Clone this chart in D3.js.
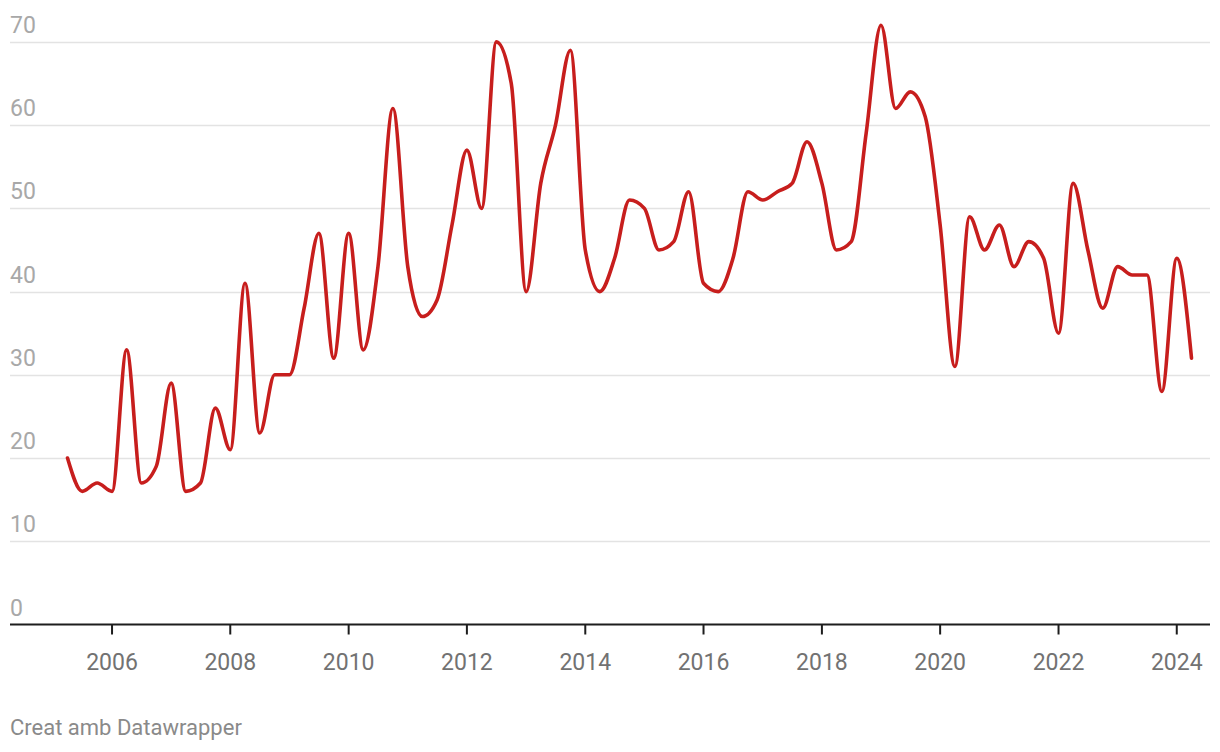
<!DOCTYPE html>
<html>
<head>
<meta charset="utf-8">
<script src="https://cdn.jsdelivr.net/npm/d3@7"></script>
<style>
  html, body { margin: 0; padding: 0; background: #fff; }
  svg { display: block; font-family: Roboto, "Noto Sans", sans-serif; }
</style>
</head>
<body>
<svg id="chart" width="1220" height="752"></svg>
<script>
// ---- data ----
const quarters = [
  "2005Q2","2005Q3","2005Q4",
  "2006Q1","2006Q2","2006Q3","2006Q4",
  "2007Q1","2007Q2","2007Q3","2007Q4",
  "2008Q1","2008Q2","2008Q3","2008Q4",
  "2009Q1","2009Q2","2009Q3","2009Q4",
  "2010Q1","2010Q2","2010Q3","2010Q4",
  "2011Q1","2011Q2","2011Q3","2011Q4",
  "2012Q1","2012Q2","2012Q3","2012Q4",
  "2013Q1","2013Q2","2013Q3","2013Q4",
  "2014Q1","2014Q2","2014Q3","2014Q4",
  "2015Q1","2015Q2","2015Q3","2015Q4",
  "2016Q1","2016Q2","2016Q3","2016Q4",
  "2017Q1","2017Q2","2017Q3","2017Q4",
  "2018Q1","2018Q2","2018Q3","2018Q4",
  "2019Q1","2019Q2","2019Q3","2019Q4",
  "2020Q1","2020Q2","2020Q3","2020Q4",
  "2021Q1","2021Q2","2021Q3","2021Q4",
  "2022Q1","2022Q2","2022Q3","2022Q4",
  "2023Q1","2023Q2","2023Q3","2023Q4",
  "2024Q1","2024Q2"
];
const values = [
  20, 16, 17,
  16, 33, 17, 19,
  29, 16, 17, 26,
  21, 41, 23, 30,
  30, 38, 47, 32,
  47, 33, 43, 62,
  43, 37, 39, 48,
  57, 50, 70, 65,
  40, 53, 60, 69,
  45, 40, 44, 51,
  50, 45, 46, 52,
  41, 40, 44, 52,
  51, 52, 53, 58,
  53, 45, 46, 59,
  72, 62, 64, 61,
  48, 31, 49, 45,
  48, 43, 46, 44,
  35, 53, 45, 38,
  43, 42, 42, 28,
  44, 32
];
const yTicks = [0, 10, 20, 30, 40, 50, 60, 70];
const xTickYears = [2006, 2008, 2010, 2012, 2014, 2016, 2018, 2020, 2022, 2024];
const credit = "Creat amb Datawrapper";

// ---- helpers ----
function qToDate(q) {
  const y = +q.slice(0, 4), n = +q.slice(5);
  return new Date(y, (n - 1) * 3, 1);
}
const data = quarters.map((q, i) => ({ date: qToDate(q), value: values[i] }));

// ---- layout ----
const plotLeft = 10, plotRight = 1210;
const svg = d3.select("#chart");

const x = d3.scaleTime()
  .domain(d3.extent(data, d => d.date))
  .range([67.5, 1191.5]);
const y = d3.scaleLinear().domain([0, 70]).range([624.5, 41.9]);

// gridlines
svg.append("g").selectAll("line")
  .data(yTicks.filter(t => t > 0))
  .join("line")
  .attr("x1", plotLeft).attr("x2", plotRight)
  .attr("y1", d => Math.round(y(d)) + 0.5).attr("y2", d => Math.round(y(d)) + 0.5)
  .attr("stroke", "#e3e3e3").attr("stroke-width", 1.5);

// y labels
svg.append("g").selectAll("text")
  .data(yTicks)
  .join("text")
  .attr("x", plotLeft)
  .attr("y", d => y(d) - 9)
  .attr("font-size", 23)
  .attr("fill", "#a8a8a8")
  .text(d => d);

// line
const line = d3.line()
  .x(d => x(d.date))
  .y(d => y(d.value))
  .curve(d3.curveMonotoneX);

svg.append("path")
  .datum(data)
  .attr("d", line)
  .attr("fill", "none")
  .attr("stroke", "#c71e1d")
  .attr("stroke-width", 3.6)
  .attr("stroke-linejoin", "round")
  .attr("stroke-linecap", "round");

// x axis baseline
svg.append("line")
  .attr("x1", plotLeft).attr("x2", plotRight)
  .attr("y1", y(0)).attr("y2", y(0))
  .attr("stroke", "#1d1d1d").attr("stroke-width", 2.2);

// x ticks and labels
const xt = svg.append("g").selectAll("g")
  .data(xTickYears)
  .join("g")
  .attr("transform", d => `translate(${x(new Date(d, 0, 1))},0)`);
xt.append("line")
  .attr("y1", y(0)).attr("y2", y(0) + 10)
  .attr("stroke", "#1d1d1d").attr("stroke-width", 2);
xt.append("text")
  .attr("y", y(0) + 45)
  .attr("text-anchor", "middle")
  .attr("font-size", 23)
  .attr("fill", "#727272")
  .text(d => d);

// credit
svg.append("text")
  .attr("x", plotLeft)
  .attr("y", 735)
  .attr("font-size", 22)
  .attr("fill", "#8a8a8a")
  .text(credit);
</script>
</body>
</html>
